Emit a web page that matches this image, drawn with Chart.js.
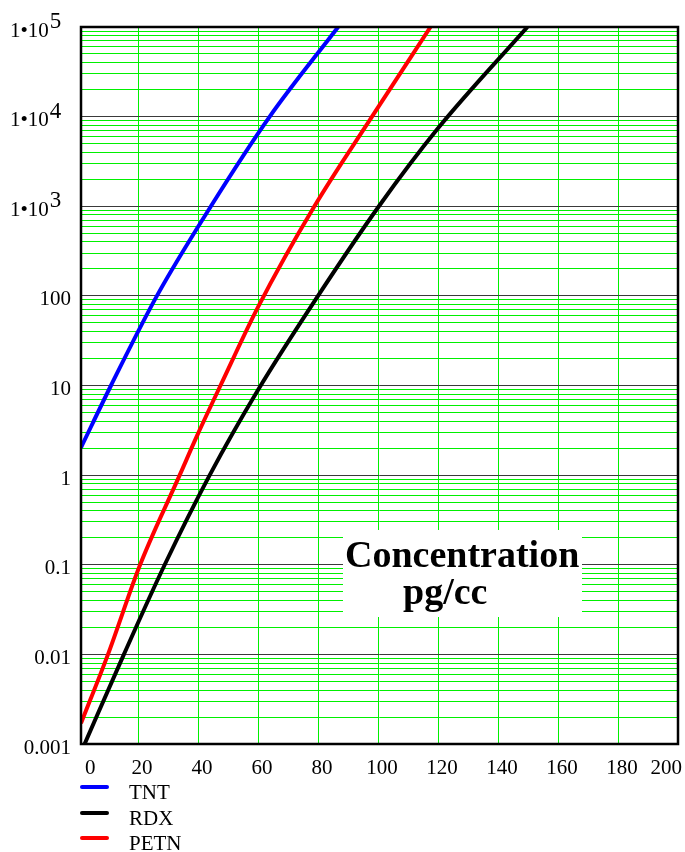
<!DOCTYPE html>
<html>
<head>
<meta charset="utf-8">
<script src="https://cdn.jsdelivr.net/npm/chart.js@4.4.0/dist/chart.umd.min.js"></script>
<style>
  html, body { margin: 0; padding: 0; background: #ffffff; }
  #wrap { width: 685px; height: 852px; }
</style>
</head>
<body>
<div id="wrap"><canvas id="c" width="685" height="852"></canvas></div>
<script>
// ---- data ----
const TNT_X  = [1, 11, 26.3, 44.3, 63.9, 86.7];
const TNT_Y  = [2.03, 10, 100, 1000, 10000, 100000];
const RDX_X  = [2.2, 15.3, 28.9, 43.9, 60, 80, 100.3, 120, 149.8];
const RDX_Y  = [0.001, 0.01, 0.1, 1, 8.9, 100, 1000, 7400, 100000];
const PETN_X = [1, 10, 20.7, 33.9, 40, 47.5, 60, 78.8, 98, 117.5];
const PETN_Y = [0.0017, 0.01, 0.1, 1, 2.9, 10, 75, 1000, 10000, 100000];

const SERIES_NAMES = ['TNT', 'RDX', 'PETN'];
const SERIES_COLORS = ['#0000ff', '#000000', '#ff0000'];

const X_TICK_VALUES = [0, 20, 40, 60, 80, 100, 120, 140, 160, 180, 200];
const X_TICK_LABELS = ['0', '20', '40', '60', '80', '100', '120', '140', '160', '180', '200'];
const X_GRID_VALUES = [20, 40, 60, 80, 100, 120, 140, 160, 180];
const Y_TICK_VALUES = [0.001, 0.01, 0.1, 1, 10, 100, 1000, 10000, 100000];
const Y_TICK_LABELS = ['0.001', '0.01', '0.1', '1', '10', '100', '1\u202210^3', '1\u202210^4', '1\u202210^5'];
const Y_MINOR_MULTIPLIERS = [2, 3, 4, 5, 6, 7, 8, 9];
const NOTE_LINES = ['Concentration', 'pg/cc'];

const X_MIN = 1, X_MAX = 200, Y_MIN = 0.001, Y_MAX = 100000;

function pts(xs, ys) { return xs.map((x, i) => ({ x: x, y: ys[i] })); }

const SERIF = '"Liberation Serif", "Times New Roman", serif';

const decorPlugin = {
  id: 'decor',
  afterDatasetsDraw(chart) {
    const ctx = chart.ctx;
    ctx.save();
    ctx.fillStyle = '#ffffff';
    ctx.fillRect(343, 530, 239, 87);
    ctx.fillStyle = '#000000';
    ctx.font = 'bold 38px ' + SERIF;
    ctx.textAlign = 'left';
    ctx.textBaseline = 'alphabetic';
    ctx.fillText(NOTE_LINES[0], 345, 567);
    ctx.fillText(NOTE_LINES[1], 403, 604);
    ctx.restore();
  },
  afterDraw(chart) {
    const ctx = chart.ctx;
    const a = chart.chartArea;
    const xs = chart.scales.x, ys = chart.scales.y;
    ctx.save();
    // frame
    ctx.strokeStyle = '#000000';
    ctx.lineWidth = 2.5;
    ctx.strokeRect(a.left, a.top, a.right - a.left, a.bottom - a.top);

    // y labels
    ctx.fillStyle = '#000000';
    ctx.textBaseline = 'middle';
    Y_TICK_VALUES.forEach((v, i) => {
      const py = ys.getPixelForValue(v);
      const lab = Y_TICK_LABELS[i];
      if (lab.indexOf('^') >= 0) {
        const parts = lab.split('^');
        ctx.font = '21px ' + SERIF;
        ctx.textAlign = 'left';
        ctx.fillText(parts[0], 10, py + 4);
        const w = ctx.measureText(parts[0]).width;
        ctx.font = '23px ' + SERIF;
        ctx.fillText(parts[1], 10 + w + 1, py - 5);
      } else {
        ctx.font = '21px ' + SERIF;
        ctx.textAlign = 'right';
        ctx.fillText(lab, 71, py + 4);
      }
    });

    // x labels
    ctx.font = '21px ' + SERIF;
    ctx.textAlign = 'center';
    X_TICK_VALUES.forEach((v, i) => {
      const lab = X_TICK_LABELS[i];
      const w = ctx.measureText(lab).width;
      let cx = xs.getPixelForValue(v) + 4;
      cx = Math.max(cx, a.left + 4 + w / 2);
      cx = Math.min(cx, a.right + 4 - w / 2);
      ctx.fillText(lab, cx, a.bottom + 24);
    });

    // legend
    const legY = [787, 813, 838];
    SERIES_NAMES.forEach((name, i) => {
      ctx.strokeStyle = SERIES_COLORS[i];
      ctx.lineWidth = 4;
      ctx.lineCap = 'round';
      ctx.beginPath();
      ctx.moveTo(82, legY[i]);
      ctx.lineTo(107, legY[i]);
      ctx.stroke();
      ctx.fillStyle = '#000000';
      ctx.textAlign = 'left';
      ctx.font = '21px ' + SERIF;
      ctx.fillText(name, 129, legY[i] + 6);
    });
    ctx.restore();
  }
};

new Chart(document.getElementById('c'), {
  type: 'line',
  data: {
    datasets: [
      { label: SERIES_NAMES[0], data: pts(TNT_X, TNT_Y), borderColor: SERIES_COLORS[0] },
      { label: SERIES_NAMES[1], data: pts(RDX_X, RDX_Y), borderColor: SERIES_COLORS[1] },
      { label: SERIES_NAMES[2], data: pts(PETN_X, PETN_Y), borderColor: SERIES_COLORS[2] }
    ]
  },
  options: {
    responsive: false,
    devicePixelRatio: 1,
    animation: false,
    layout: { padding: { left: 81, right: 7, top: 27, bottom: 108 } },
    elements: {
      line: { borderWidth: 4, cubicInterpolationMode: 'monotone', fill: false },
      point: { radius: 0, hoverRadius: 0 }
    },
    plugins: { legend: { display: false }, tooltip: { enabled: false } },
    scales: {
      x: {
        type: 'linear', min: X_MIN, max: X_MAX,
        afterBuildTicks: (s) => { s.ticks = X_GRID_VALUES.map(v => ({ value: v })); },
        ticks: { display: false },
        grid: { color: '#00f000', lineWidth: 1, drawTicks: false },
        border: { display: false }
      },
      y: {
        type: 'logarithmic', min: Y_MIN, max: Y_MAX,
        afterBuildTicks: (s) => {
          const t = [];
          Y_TICK_VALUES.forEach((d, i) => {
            if (i > 0 && i < Y_TICK_VALUES.length - 1) t.push({ value: d, major: true });
            if (i < Y_TICK_VALUES.length - 1) {
              Y_MINOR_MULTIPLIERS.forEach(m => t.push({ value: d * m }));
            }
          });
          s.ticks = t;
        },
        ticks: { display: false },
        grid: {
          drawTicks: false,
          lineWidth: 1,
          color: (c) => {
            const v = c.tick ? c.tick.value : 1;
            const l = Math.log10(v);
            return Math.abs(l - Math.round(l)) < 1e-6 ? '#3a3a3a' : '#00f000';
          }
        },
        border: { display: false }
      }
    }
  },
  plugins: [decorPlugin]
});
</script>
</body>
</html>
